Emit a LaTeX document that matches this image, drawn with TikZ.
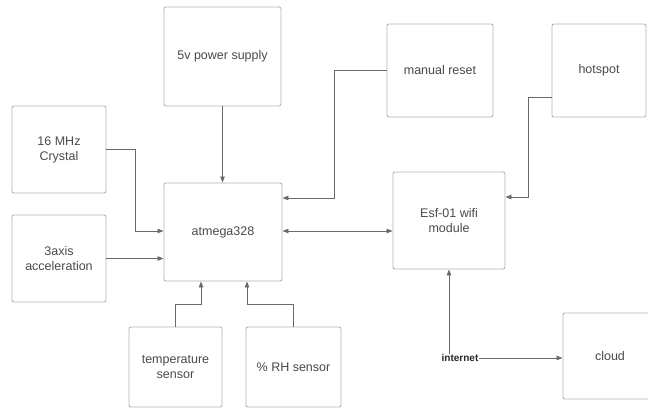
\documentclass[tikz,border=0pt]{standalone}
\usepackage{fontspec}
\setmainfont{Liberation Sans}
\usetikzlibrary{arrows.meta}
\definecolor{boxgray}{HTML}{B4B4B4}
\definecolor{linegray}{HTML}{6A6A6A}
\definecolor{txtgray}{HTML}{4A4A4A}
\begin{document}
\begin{tikzpicture}[x=1pt,y=-1pt,
  box/.style={draw=boxgray, line width=0.9pt, rounded corners=2pt, fill=white,
    align=center, text=txtgray, inner sep=0pt,
    font=\fontsize{12.5}{15}\selectfont},
  conn/.style={draw=linegray, line width=0.8pt, -{Triangle[length=6pt,width=4.5pt]}},
  conn2/.style={draw=linegray, line width=0.8pt, {Triangle[length=6pt,width=4.5pt]}-{Triangle[length=6pt,width=4.5pt]}}]
\useasboundingbox (0,0) rectangle (648,410);
\begin{scope}
\clip (0,0) rectangle (648,410);
\node[box, minimum width=117pt, minimum height=99pt] (ps) at (222.5,56.5) {5v power supply};
\node[box, minimum width=106pt, minimum height=93pt] (mr) at (440,70.5) {manual reset};
\node[box, minimum width=94pt, minimum height=93pt] (hs) at (599,70.5) {hotspot};
\node[box, minimum width=94pt, minimum height=87pt] (cr) at (59,149.5) {16 MHz\\Crystal};
\node[box, minimum width=94pt, minimum height=87pt] (ax) at (59,258.5) {3axis\\acceleration};
\node[box, minimum width=118pt, minimum height=98pt] (at) at (223,232) {atmega328};
\node[box, minimum width=112pt, minimum height=97pt] (es) at (449,220.5) {Esf-01 wifi\\module};
\node[box, minimum width=93pt, minimum height=80pt] (ts) at (175.5,367) {temperature\\sensor};
\node[box, minimum width=95pt, minimum height=80pt] (rh) at (293.5,367) {\% RH sensor};
\node[box, minimum width=94pt, minimum height=86pt] (cl) at (610,356) {cloud};
\node[font=\fontsize{10}{12}\selectfont\bfseries, text=black!85, inner sep=0.5pt] (inet) at (460,358) {internet};

\draw[conn] (ps.south) -- (at.north -| ps.south);
\draw[conn] (cr.east) -| (135,231) -- (at.west |- 0,231);
\draw[conn] (ax.east) -- (at.west |- ax.east);
\draw[conn] (mr.west) -| (334,198) -- (at.east |- 0,198);
\draw[conn2] (at.east |- 0,231) -- (es.west |- 0,231);
\draw[conn] (hs.west |- 0,97) -| (528,197) -- (es.east |- 0,197);
\draw[conn] (ts.north) |- (201,304) -- (at.south -| 201,0);
\draw[conn] (rh.north) |- (247,304) -- (at.south -| 247,0);
\draw[conn] (inet.north -| es.south) -- (es.south);
\draw[conn] (inet.east) -- (cl.west |- inet.east);
\end{scope}
\end{tikzpicture}
\end{document}
